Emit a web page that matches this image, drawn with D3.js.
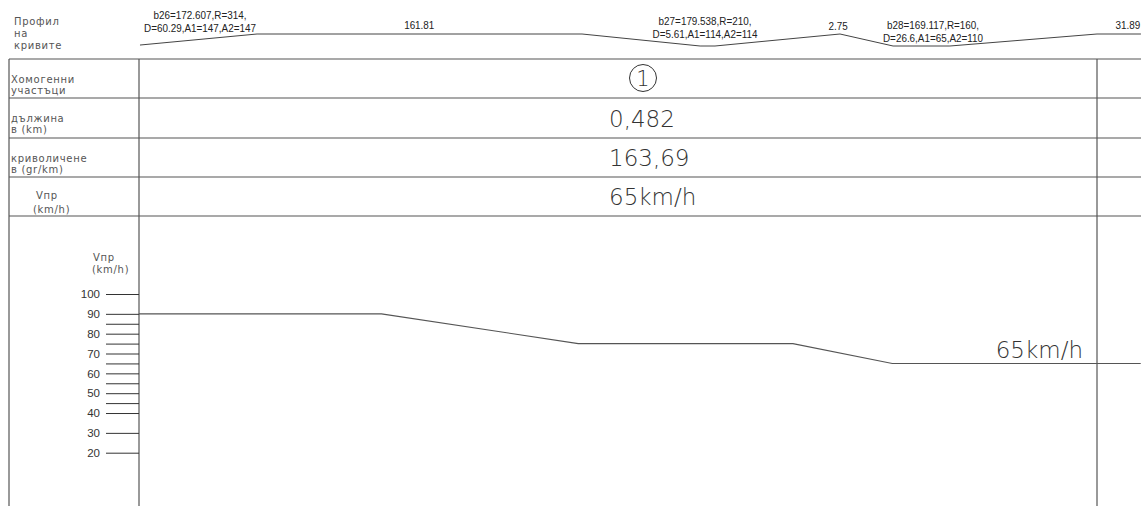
<!DOCTYPE html>
<html><head><meta charset="utf-8">
<script src="https://cdn.jsdelivr.net/npm/d3@7"></script>
<style>
html,body{margin:0;padding:0;background:#fff;}
svg{display:block;}
.cad{font-family:"DejaVu Sans",sans-serif;font-weight:200;fill:#333;}
.cads{font-family:"DejaVu Sans",sans-serif;font-weight:normal;fill:#555;}
.nar{font-family:"Liberation Sans Narrow","Liberation Sans",Arial,sans-serif;fill:#222;}
</style></head>
<body>
<svg id="c" width="1141" height="506"></svg>
<script>
// ---- data ----
const profileChainage = [0.5, 59.4, 222.9, 282.3, 289.8, 352.7, 379.4, 408.0, 482, 504.1];
const profileLevel    = [0.92, 0, 0, 1, 1, 0, 1, 1, 0, 0];
const profileLabelLines = [
  ["b26=172.607,R=314,", "D=60.29,A1=147,A2=147"],
  ["161.81"],
  ["b27=179.538,R=210,", "D=5.61,A1=114,A2=114"],
  ["2.75"],
  ["b28=169.117,R=160,", "D=26.6,A1=65,A2=110"],
  ["31.89"]
];
const profileLabelChainage = [30.7, 141, 284.8, 351.7, 399.5, 497.5];
const speedChainage = [0, 122, 221, 329, 379, 504];
const speedValues   = [90, 90, 75, 75, 65, 65];
const majorTicks = [20, 30, 40, 50, 60, 70, 80, 90, 100];
const minorTicks = [45, 55, 65, 75, 85];
const rowLabels = [
  ["Хомогенни", "участъци"],
  ["дължина", "в (km)"],
  ["криволичене", "в (gr/km)"],
  ["Vпр", "(km/h)"]
];
const sectionNumber = "1";
const sectionLength = "0,482";
const sectionCurvature = "163,69";
const sectionSpeed = "65km/h";
const speedUnitLabel = ["Vпр", "(km/h)"];
const headerLabel = ["Профил", "на", "кривите"];
const sectionLengthM = 482;

// ---- layout ----
const W = 1141, H = 506;
const xL = 139, xR = 1097, xBorder = 9;
const rowY = [59, 98, 138, 177, 216];
const svg = d3.select("#c");
svg.append("rect").attr("width", W).attr("height", H).attr("fill", "#fff");

const x = d3.scaleLinear().domain([0, sectionLengthM]).range([xL, xR]);
const yProf = d3.scaleLinear().domain([0, 1]).range([34, 46]);
const ySpeed = d3.scaleLinear().domain([20, 100]).range([452.7, 294]);

const lineCol = "#555";
// table lines
rowY.forEach(y => svg.append("line").attr("x1", xBorder).attr("x2", W).attr("y1", y).attr("y2", y)
  .attr("stroke", lineCol).attr("stroke-width", 1.2));
[xBorder, xL, xR].forEach(xx => svg.append("line").attr("x1", xx).attr("x2", xx).attr("y1", rowY[0]).attr("y2", H)
  .attr("stroke", lineCol).attr("stroke-width", 1.2));

// header left label
headerLabel.forEach((t, i) => svg.append("text").attr("class", "cads").attr("x", 14).attr("y", 25 + i * 12)
  .attr("font-size", 10).style("letter-spacing", "0.7px").text(t));

// profile line
const pts = profileChainage.map((c, i) => [x(c), yProf(profileLevel[i])]);
svg.append("path").attr("d", d3.line()(pts)).attr("fill", "none").attr("stroke", "#444").attr("stroke-width", 1);

// profile labels (narrowed sans)
const baseY = [19, 29, 25, 30, 29, 29];
profileLabelLines.forEach((lines, i) => {
  lines.forEach((t, j) => svg.append("text").attr("class", "nar").attr("text-anchor", "middle")
    .attr("transform", `translate(${x(profileLabelChainage[i])},${baseY[i] + j * 12.5}) scale(0.86,1)`)
    .attr("font-size", 11.5).text(t));
});

// row labels
rowLabels.forEach((lines, i) => {
  const y0 = rowY[i];
  svg.append("text").attr("class", "cads").attr("x", i === 3 ? 36 : 11).attr("y", y0 + 24 - (i === 3 ? 2 : 0))
    .attr("font-size", 10).style("letter-spacing", "0.7px").text(lines[0]);
  svg.append("text").attr("class", "cads").attr("x", i === 3 ? 33 : 11).attr("y", y0 + 36 - (i === 3 ? 0 : 1))
    .attr("font-size", 10).style("letter-spacing", "0.7px").text(lines[1]);
});

// cell values
const cellX = 609;
svg.append("circle").attr("cx", 643).attr("cy", 78).attr("r", 13.5)
  .attr("fill", "none").attr("stroke", "#333").attr("stroke-width", 1);
svg.append("text").attr("class", "cad").attr("x", 643).attr("y", 86).attr("text-anchor", "middle")
  .attr("font-size", 21).text(sectionNumber);
[[sectionLength, 127], [sectionCurvature, 166], [sectionSpeed, 205]].forEach(([t, y]) =>
  svg.append("text").attr("class", "cad").attr("x", cellX).attr("y", y).attr("font-size", 23).text(t));

// speed axis
const axis = d3.axisLeft(ySpeed).tickValues(majorTicks.concat(minorTicks)).tickSize(33).tickPadding(6)
  .tickFormat(d => majorTicks.includes(d) ? d : "");
const gAx = svg.append("g").attr("transform", `translate(${xL},0)`).call(axis);
gAx.select(".domain").remove();
gAx.selectAll(".tick line").attr("stroke", "#333").attr("stroke-width", 1);
gAx.selectAll(".tick text").attr("fill", "#333").attr("font-family", "'Liberation Sans',Arial,sans-serif").attr("font-size", 11.5);

speedUnitLabel.forEach((t, i) => svg.append("text").attr("class", "cads").attr("x", i === 0 ? 93 : 92)
  .attr("y", 261 + i * 12).attr("font-size", 10).style("letter-spacing", "0.7px").text(t));

// speed line
const sp = speedChainage.map((c, i) => [x(c), ySpeed(speedValues[i])]);
svg.append("path").attr("d", d3.line()(sp)).attr("fill", "none").attr("stroke", "#555").attr("stroke-width", 1.1);

svg.append("text").attr("class", "cad").attr("x", 1083).attr("y", 358).attr("text-anchor", "end")
  .attr("font-size", 23).text(sectionSpeed);
</script>
</body></html>
